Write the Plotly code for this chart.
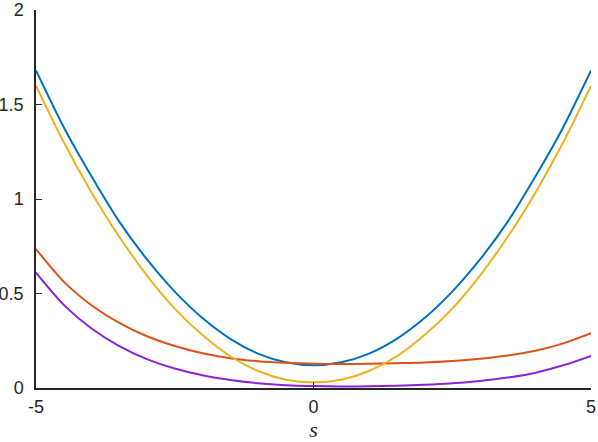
import plotly.graph_objects as go

# sample positions along s
s = [-5, -4.5, -4, -3.5, -3, -2.5, -2, -1.5, -1, -0.5, 0,
     0.5, 1, 1.5, 2, 2.5, 3, 3.5, 4, 4.5, 5]

# values
blue = [1.68, 1.38, 1.12, 0.88, 0.68, 0.51, 0.37, 0.26, 0.182, 0.136, 0.12,
        0.136, 0.182, 0.26, 0.37, 0.51, 0.68, 0.88, 1.12, 1.38, 1.68]
orange = [0.735, 0.563, 0.438, 0.345, 0.274, 0.222, 0.184, 0.158, 0.142, 0.133, 0.128,
          0.127, 0.128, 0.131, 0.135, 0.143, 0.155, 0.172, 0.197, 0.236, 0.29]
yellow = [1.60, 1.30, 1.035, 0.80, 0.595, 0.42, 0.28, 0.168, 0.09, 0.044, 0.03,
          0.044, 0.09, 0.168, 0.28, 0.42, 0.595, 0.80, 1.035, 1.30, 1.60]
purple = [0.61, 0.44, 0.315, 0.222, 0.153, 0.103, 0.067, 0.042, 0.025, 0.015, 0.01,
          0.008, 0.009, 0.012, 0.017, 0.025, 0.037, 0.055, 0.081, 0.12, 0.17]

x_ticks = [-5, 0, 5]
y_ticks = [0, 0.5, 1, 1.5, 2]
y_labels = ['0', '0.5', '1', '1.5', '2']

axis_col = '#262626'

fig = go.Figure()
for vals, col in [(blue, '#0072BD'), (orange, '#D95319'),
                  (yellow, '#EDB120'), (purple, '#8B23D6')]:
    fig.add_trace(go.Scatter(x=s, y=vals, mode='lines',
                             line=dict(color=col, width=2, shape='spline', smoothing=0.8),
                             showlegend=False, hoverinfo='skip'))

fig.update_layout(
    width=598, height=442,
    margin=dict(l=36, r=7, t=10, b=54),
    paper_bgcolor='white', plot_bgcolor='white',
    font=dict(family='Liberation Sans, Arial, sans-serif', size=18, color=axis_col),
    xaxis=dict(
        range=[-5, 5], tickvals=x_ticks, ticktext=[str(v) for v in x_ticks],
        ticks='inside', ticklen=6, tickwidth=1.3, tickcolor=axis_col,
        showline=True, linecolor=axis_col, linewidth=1.5,
        showgrid=False, zeroline=False, automargin=False,
        ticklabelstandoff=2, ticklabeloverflow='allow',
        title=dict(text='<i>s</i>', standoff=8,
                   font=dict(family='Liberation Serif, Times New Roman, serif', size=22)),
    ),
    yaxis=dict(
        range=[0, 2], tickvals=y_ticks, ticktext=y_labels,
        ticks='inside', ticklen=6, tickwidth=1.3, tickcolor=axis_col,
        showline=True, linecolor=axis_col, linewidth=1.5,
        showgrid=False, zeroline=False, automargin=False,
        ticklabelstandoff=7, ticklabeloverflow='allow',
    ),
)

# drop the default 8px body margin so the figure sits at the page corner
fig.write_html("out.html", config={'displayModeBar': False},
               post_script="document.body.style.margin='0';")
